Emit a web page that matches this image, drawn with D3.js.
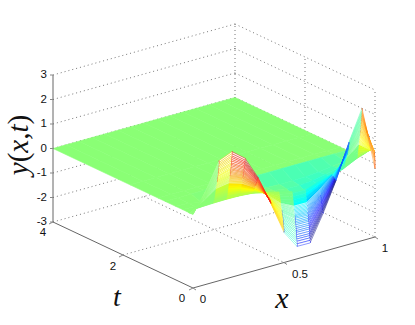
<!DOCTYPE html>
<html lang="en">
<head>
<meta charset="UTF-8" />
<title>y(x,t) surface</title>
<style>
  html, body { margin:0; background:#fff; overflow:hidden; }
  svg { display:block; }
  .tick { font-family:"Liberation Sans",sans-serif; font-size:11.5px; fill:#111; }
  .lab { font-family:"Liberation Serif",serif; fill:#111; }
</style>
</head>
<body>
<svg id="chart" width="415" height="325"></svg>
<script src="https://d3js.org/d3.v7.min.js"></script>
<script>
// grid: 15 x nodes, t rows packed tight near t=0
const xValues = [0,1/14,2/14,3/14,4/14,5/14,6/14,7/14,8/14,9/14,10/14,11/14,12/14,13/14,1];
const tValues = [0,.004,.008,.012,.016,.02,.024,.028,.032,.036,.04,.044,.048,.052,.056,.06,.064,.068,.072,.076,.08,.084,.088,.092,.096,
                 .104,.112,.12,.13,.14,.18,.3,.5,.8,1,1.8,4];
const yGrid = [
  [0,.85,1.9,2.12,1.7,.77,-.45,-1.77,-2.49,-2.5,-1.45,-.25,1.17,2.4,-.2],
  [0,.82,1.82,2.04,1.63,.74,-.43,-1.7,-2.39,-2.4,-1.39,-.24,1.12,2.3,.05],
  [0,.78,1.75,1.95,1.56,.71,-.41,-1.63,-2.29,-2.3,-1.33,-.23,1.08,2.21,.2],
  [0,.75,1.68,1.88,1.5,.68,-.4,-1.57,-2.2,-2.21,-1.28,-.22,1.04,2.12,.32],
  [0,.72,1.62,1.8,1.45,.65,-.38,-1.5,-2.12,-2.13,-1.23,-.21,.99,2.04,.42],
  [0,.69,1.55,1.73,1.39,.63,-.37,-1.44,-2.03,-2.04,-1.18,-.2,.95,1.96,.48],
  [0,.66,1.48,1.65,1.33,.6,-.35,-1.38,-1.94,-1.95,-1.13,-.2,.91,1.87,.5],
  [0,.64,1.43,1.59,1.28,.58,-.34,-1.33,-1.87,-1.88,-1.09,-.19,.88,1.8,.5],
  [0,.61,1.37,1.53,1.22,.55,-.32,-1.27,-1.79,-1.8,-1.04,-.18,.84,1.73,.5],
  [0,.59,1.31,1.46,1.17,.53,-.31,-1.22,-1.72,-1.73,-1,-.17,.81,1.66,.5],
  [0,.56,1.25,1.4,1.12,.51,-.3,-1.17,-1.64,-1.65,-.96,-.17,.77,1.58,.5],
  [0,.54,1.21,1.35,1.08,.49,-.29,-1.12,-1.58,-1.59,-.92,-.16,.74,1.52,.5],
  [0,.52,1.16,1.29,1.04,.47,-.27,-1.08,-1.52,-1.53,-.88,-.15,.71,1.46,.49],
  [0,.5,1.11,1.24,.99,.45,-.26,-1.04,-1.46,-1.46,-.85,-.15,.68,1.4,.49],
  [0,.48,1.06,1.19,.95,.43,-.25,-.99,-1.39,-1.4,-.81,-.14,.66,1.34,.49],
  [0,.46,1.03,1.14,.92,.42,-.24,-.96,-1.34,-1.35,-.78,-.14,.63,1.3,.48],
  [0,.44,.99,1.1,.88,.4,-.23,-.92,-1.29,-1.3,-.75,-.13,.61,1.25,.48],
  [0,.43,.95,1.06,.85,.39,-.23,-.89,-1.25,-1.25,-.73,-.13,.59,1.2,.48],
  [0,.41,.91,1.02,.82,.37,-.22,-.85,-1.2,-1.2,-.7,-.12,.56,1.15,.48],
  [0,.39,.87,.98,.78,.35,-.21,-.81,-1.15,-1.15,-.67,-.12,.54,1.1,.47],
  [0,.37,.84,.93,.75,.34,-.2,-.78,-1.1,-1.1,-.64,-.11,.51,1.06,.47],
  [0,.36,.8,.89,.71,.32,-.19,-.74,-1.05,-1.05,-.61,-.11,.49,1.01,.47],
  [0,.34,.76,.85,.68,.31,-.18,-.71,-1,-1,-.58,-.1,.47,.96,.47],
  [0,.32,.72,.81,.65,.29,-.17,-.67,-.95,-.95,-.55,-.1,.44,.91,.46],
  [0,.31,.68,.76,.61,.28,-.16,-.64,-.9,-.9,-.52,-.09,.42,.86,.46],
  [0,.27,.61,.68,.54,.25,-.14,-.57,-.8,-.8,-.46,-.09,.37,.77,.46],
  [0,.23,.51,.57,.46,.21,-.12,-.48,-.67,-.68,-.39,-.09,.3,.65,.46],
  [0,.19,.42,.47,.37,.17,-.1,-.39,-.55,-.55,-.32,-.09,.22,.53,.46],
  [0,.14,.32,.36,.29,.13,-.09,-.3,-.42,-.43,-.25,-.09,.14,.41,.46],
  [0,.1,.23,.25,.2,.09,-.09,-.22,-.36,-.4,-.3,-.12,.05,.3,.45],
  [0,.02,.04,.05,.04,0,-.12,-.3,-.42,-.45,-.36,-.2,-.06,.2,.4],
  [0,-.02,-.05,-.03,-.06,-.1,-.16,-.26,-.34,-.36,-.3,-.2,-.08,.08,.2],
  [0,-.03,-.14,-.06,-.08,-.2,-.26,-.28,-.3,-.3,-.28,-.24,-.16,-.1,0],
  [0,0,0,0,0,0,0,0,0,0,0,0,0,0,0],
  [0,0,0,0,0,0,0,0,0,0,0,0,0,0,0],
  [0,0,0,0,0,0,0,0,0,0,0,0,0,0,0],
  [0,0,0,0,0,0,0,0,0,0,0,0,0,0,0]
];
// colour levels of the lines running along t at each x node
const nodeLevels = [0,0,1.8,1.8,1.8,1.8,1.5,-1.7,-1.9,-1.9,-1.9,-1.9,-1.7,1.7,1.4];
const nodeRows = 16;   // those lines stop here
const hatchRows = 24;  // rows before this show white between lines, rest reads as solid

const yTicks = [-3,-2,-1,0,1,2,3];
const xTicks = [0,.5,1];
const tTicks = [0,2,4];

const W = 415, H = 325;
const svg = d3.select("#chart");

// oblique projection, three axis scales summed
const ox = 193, oy = 288;
const xToPx = d3.scaleLinear([0,1],[0,182]), xToPy = d3.scaleLinear([0,1],[0,-51]);
const tToPx = d3.scaleLinear([0,4],[0,-140]), tToPy = d3.scaleLinear([0,4],[0,-66]);
const yToPy = d3.scaleLinear([-3,3],[0,-147]);
const proj = (x,t,y) => [ox+xToPx(x)+tToPx(t), oy+xToPy(x)+tToPy(t)+yToPy(y)];

// jet colormap over the data range
const allY = yGrid.flat();
const level = d3.scaleLinear().domain(d3.extent(allY)).range([0,1]);
const jetRamp = d3.scaleLinear().domain([0,.125,.375,.625,.875,1])
  .range(["#00007f","#0000ff","#00ffff","#ffff00","#ff0000","#7f0000"]);
const jet = v => jetRamp(level(v));

const seg = (a,b) => "M"+a[0]+","+a[1]+"L"+b[0]+","+b[1];

// dotted grid
const grid = svg.append("g").attr("fill","none").attr("stroke","#777").attr("stroke-width",1).attr("stroke-dasharray","1 3");
const gridLines = [];
yTicks.forEach(y=>{
  gridLines.push(seg(proj(0,4,y),proj(1,4,y)));
  gridLines.push(seg(proj(1,4,y),proj(1,0,y)));
});
gridLines.push(seg(proj(1,4,-3),proj(1,4,3)));
gridLines.push(seg(proj(1,2,-3),proj(1,2,3)));
gridLines.push(seg(proj(1,0,-3),proj(1,0,3)));
gridLines.push(seg(proj(.5,4,-3),proj(.5,0,-3)));
gridLines.push(seg(proj(0,2,-3),proj(1,2,-3)));
grid.selectAll("path").data(gridLines).join("path").attr("d",d=>d);

// surface, painted from far corner to near corner
const surf = svg.append("g").attr("stroke-linejoin","round");
for(let j=tValues.length-2;j>=0;j--){
  for(let i=xValues.length-2;i>=0;i--){
    const a=proj(xValues[i],tValues[j],yGrid[j][i]),
          b=proj(xValues[i+1],tValues[j],yGrid[j][i+1]),
          c=proj(xValues[i+1],tValues[j+1],yGrid[j+1][i+1]),
          d=proj(xValues[i],tValues[j+1],yGrid[j+1][i]);
    const col = jet(yGrid[j][Math.max(i-1,0)]);  // band takes the level of the node before it
    const solid = j>=hatchRows;
    surf.append("path").attr("d","M"+[a,b,c,d].join("L")+"Z")
      .attr("fill",solid?col:"#fff").attr("stroke",solid?col:"none").attr("stroke-width",.6);
    if(!solid){
      // both long edges, the next quad painted covers half of each
      surf.append("path").attr("d",seg(a,b)+seg(d,c)).attr("fill","none").attr("stroke",col).attr("stroke-width",.45);
    }
    if(j<nodeRows && i>0){
      surf.append("path").attr("d",seg(a,d)).attr("fill","none").attr("stroke",jet(nodeLevels[i])).attr("stroke-width",.8);
    }
    if(j<nodeRows && i==xValues.length-2){
      surf.append("path").attr("d",seg(b,c)).attr("fill","none").attr("stroke",jet(nodeLevels[i+1])).attr("stroke-width",.8);
    }
  }
}

// axes
const axes = svg.append("g").attr("fill","none").attr("stroke","#666").attr("stroke-width",1);
axes.append("path").attr("d",seg(proj(0,4,-3),proj(0,4,3)));
axes.append("path").attr("d",seg(proj(0,4,-3),proj(0,0,-3)));
axes.append("path").attr("d",seg(proj(0,0,-3),proj(1,0,-3)));
yTicks.forEach(y=>{
  const p=proj(0,4,y);
  axes.append("path").attr("d",seg(p,[p[0]-3,p[1]])).attr("stroke","#888");
  svg.append("text").attr("class","tick").attr("x",p[0]-6).attr("y",p[1]+3).attr("text-anchor","end").text(y);
});
tTicks.forEach(t=>{
  const p=proj(0,t,-3);
  axes.append("path").attr("d",seg(p,[p[0]-4,p[1]+2])).attr("stroke","#888");
});
xTicks.forEach(x=>{
  const p=proj(x,0,-3);
  axes.append("path").attr("d",seg(p,[p[0]+3,p[1]+2])).attr("stroke","#888");
});
const tLabelPos = {0:[182,302],2:[113,270],4:[43,236]};
tTicks.forEach(t=>svg.append("text").attr("class","tick").attr("x",tLabelPos[t][0]).attr("y",tLabelPos[t][1]).attr("text-anchor","middle").text(t));
const xLabelPos = {0:[203,303],.5:[300,278],1:[385,252]};
xTicks.forEach(x=>svg.append("text").attr("class","tick").attr("x",xLabelPos[x][0]).attr("y",xLabelPos[x][1]).attr("text-anchor","middle").text(x));

// axis titles
svg.append("text").attr("class","lab").attr("x",282).attr("y",308).attr("text-anchor","middle")
  .style("font-size","30px").style("font-style","italic").text("x");
svg.append("text").attr("class","lab").attr("x",117).attr("y",306).attr("text-anchor","middle")
  .style("font-size","28px").style("font-style","italic").text("t");
const yLab = svg.append("text").attr("class","lab").attr("transform","translate(28,145) rotate(-90)")
  .attr("text-anchor","middle").style("font-size","29px");
[["y",1],["(",0],["x",1],[",",0],["t",1],[")",0]].forEach(([s,it])=>{
  yLab.append("tspan").style("font-style",it?"italic":"normal").text(s);
});
</script>
</body>
</html>
